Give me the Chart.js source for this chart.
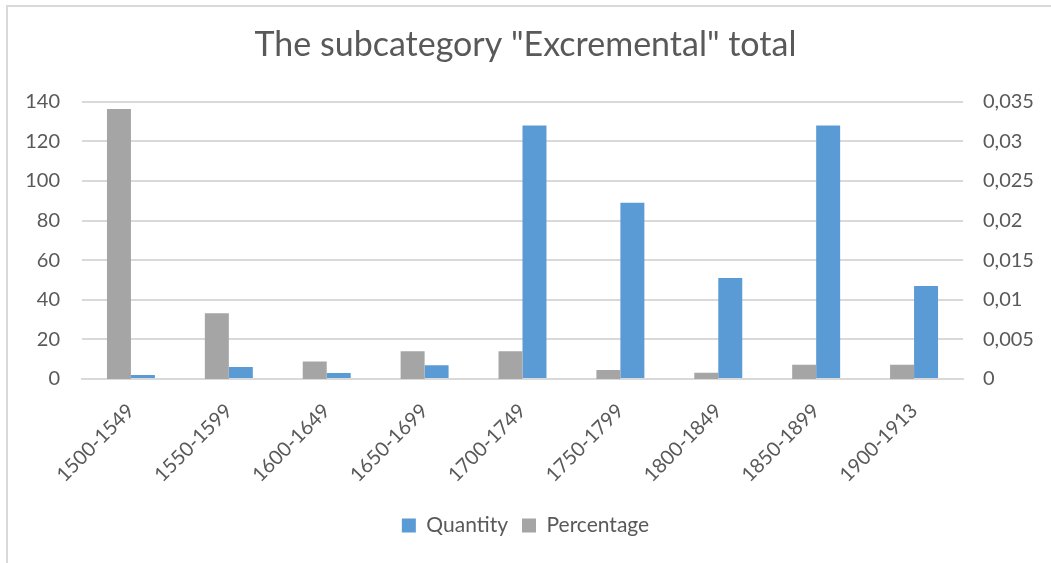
<!DOCTYPE html>
<html>
<head>
<meta charset="utf-8">
<script src="https://cdn.jsdelivr.net/npm/chart.js@4.4.1/dist/chart.umd.min.js"></script>
<style>
  html, body { margin: 0; padding: 0; background: #fff; }
  #wrap { position: relative; width: 1051px; height: 563px; overflow: hidden; }
  #frame { position: absolute; left: 6px; top: 5px; width: 1100px; height: 620px; border: 2px solid #d9d9d9; box-sizing: border-box; }
  canvas { position: absolute; left: 0; top: 0; }
</style>
</head>
<body>
<div id="wrap">
  <div id="frame"></div>
  <canvas id="c" width="1051" height="563"></canvas>
</div>
<script>
const categories = ["1500-1549","1550-1599","1600-1649","1650-1699","1700-1749","1750-1799","1800-1849","1850-1899","1900-1913"];
const quantity = [2, 6, 3, 7, 128, 89, 51, 128, 47];
const percentage = [0.0341, 0.0083, 0.0022, 0.0035, 0.0035, 0.00115, 0.0008, 0.0018, 0.0018];
const leftTicks = [0, 20, 40, 60, 80, 100, 120, 140];
const rightTicks = [0, 0.005, 0.01, 0.015, 0.02, 0.025, 0.03, 0.035];

const textColor = '#595959';
const fontFam = 'Lato, "Open Sans", sans-serif';

new Chart(document.getElementById('c'), {
  type: 'bar',
  data: {
    labels: categories,
    datasets: [
      { label: 'Percentage', data: percentage, backgroundColor: '#A5A5A5', yAxisID: 'y1' },
      { label: 'Quantity', data: quantity, backgroundColor: '#5B9BD5', yAxisID: 'y' }
    ]
  },
  options: {
    responsive: false,
    animation: false,
    datasets: { bar: { categoryPercentage: 0.49, barPercentage: 1.0 } },
    layout: { padding: { left: 0, right: 0, top: 0, bottom: 17 } },
    plugins: {
      title: {
        display: true,
        text: 'The subcategory "Excremental" total',
        color: textColor,
        font: { family: fontFam, size: 34, weight: 'normal' },
        padding: { top: 25, bottom: 36 }
      },
      legend: {
        position: 'bottom',
        reverse: true,
        labels: {
          color: textColor,
          font: { family: fontFam, size: 21 },
          boxWidth: 14, boxHeight: 14,
          padding: 14
        }
      },
      tooltip: { enabled: false }
    },
    scales: {
      x: {
        grid: { display: false, drawTicks: false },
        border: { display: true, color: '#d9d9d9', width: 2 },
        ticks: {
          color: textColor,
          font: { family: fontFam, size: 20 },
          maxRotation: 45, minRotation: 45,
          padding: 20,
          autoSkip: false
        },
        afterFit: (s) => { s.height = 122; }
      },
      y: {
        position: 'left',
        min: 0, max: 140,
        afterBuildTicks: (s) => { s.ticks = leftTicks.map(v => ({ value: v })); },
        grid: { color: '#d9d9d9', lineWidth: 2, drawTicks: false },
        border: { display: false },
        ticks: {
          color: textColor,
          font: { family: fontFam, size: 20 },
          padding: 22
        },
        afterFit: (s) => { s.width = 82; }
      },
      y1: {
        position: 'right',
        min: 0, max: 0.035,
        afterBuildTicks: (s) => { s.ticks = rightTicks.map(v => ({ value: v })); },
        grid: { display: false, drawTicks: false },
        border: { display: false },
        ticks: {
          color: textColor,
          font: { family: fontFam, size: 20 },
          padding: 20,
          callback: (v) => String(Number(v.toFixed(4))).replace('.', ',')
        },
        afterFit: (s) => { s.width = 88; }
      }
    }
  }
});
</script>
</body>
</html>
